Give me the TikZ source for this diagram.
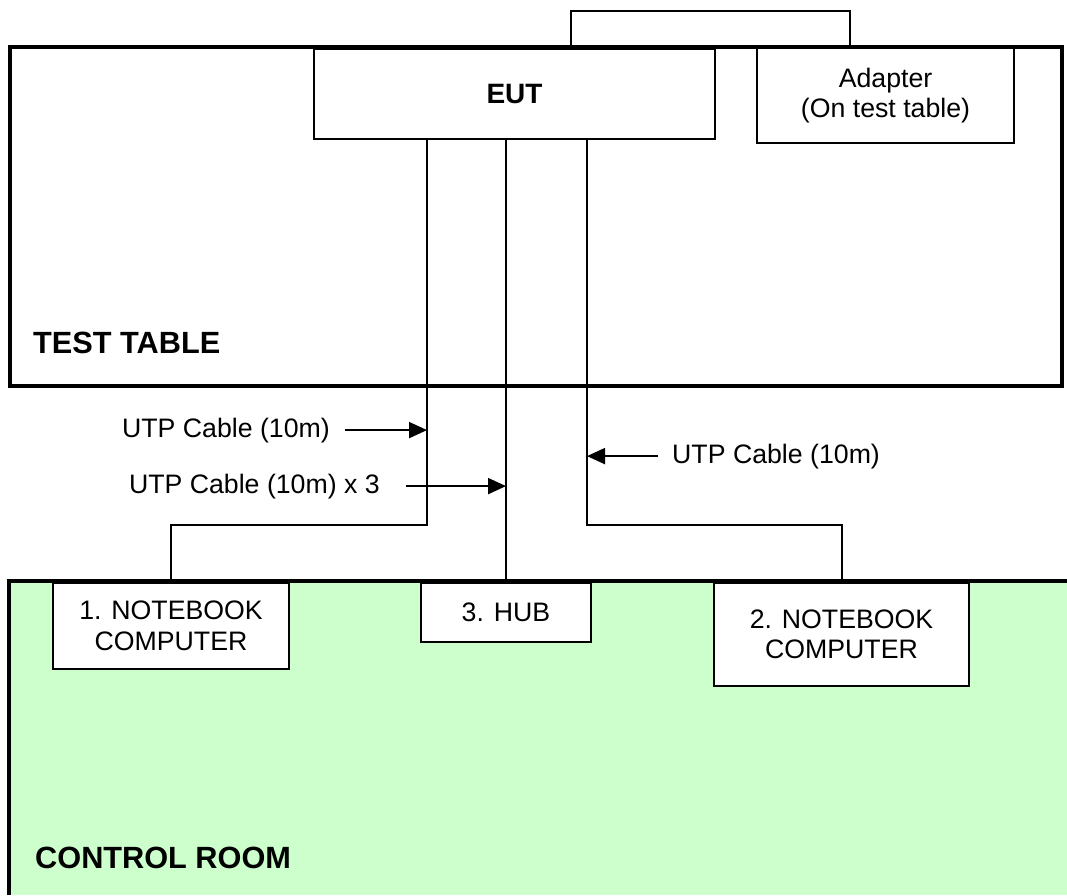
\documentclass[tikz,border=0pt]{standalone}
\usepackage{fontspec}
\setmainfont{Liberation Sans}
\usetikzlibrary{arrows.meta}
\definecolor{roomgreen}{HTML}{CCFFCC}
\tikzset{
  unitbox/.style={draw, line width=2pt, fill=white, inner sep=0pt, align=center},
  cable/.style={line width=2pt},
  cablearrow/.style={line width=2pt, -{Triangle[length=18pt,width=16pt]}},
  wall/.style={line width=4.5pt},
  roomlabel/.style={font=\bfseries\fontsize{30.7}{36}\selectfont, inner sep=0pt, anchor=base west},
  cablelabel/.style={inner sep=0pt}
}
\begin{document}
\begin{tikzpicture}[x=1pt, y=-1pt, every node/.style={font=\fontsize{26.7}{30.5}\selectfont}]
  \useasboundingbox (0,0) rectangle (1067,895);

  \fill[roomgreen] (9,581) rectangle (1067,895);
  \draw[wall] (9,895) -- (9,581) -- (1067,581);
  \node[roomlabel] (room) at (35,868) {CONTROL ROOM};

  \node[draw, wall, inner sep=0pt, minimum width=1052pt, minimum height=339pt] (table) at (536,216.5) {};
  \node[roomlabel] (tablelbl) at (33,353) {TEST TABLE};

  \node[unitbox, minimum width=401pt, minimum height=90pt, font=\bfseries\fontsize{28}{32}\selectfont] (eut) at (514.5,94) {EUT};
  \node[unitbox, minimum width=257pt, minimum height=95pt] (adapter) at (885.5,95.5) {Adapter\\(On test table)};

  \node[unitbox, minimum width=236pt, minimum height=86pt] (nb1) at (171,626) {1. NOTEBOOK\\COMPUTER};
  \node[unitbox, minimum width=170pt, minimum height=59pt] (hub) at (506,612.5) {3. HUB};
  \node[unitbox, minimum width=255pt, minimum height=103pt] (nb2) at (841.5,634.5) {2. NOTEBOOK\\COMPUTER};

  \coordinate (p1) at (571,11);
  \coordinate (p2) at (850,11);
  \draw[cable] (eut.north -| p1) -- (p1) -- (p2) -- (adapter.north -| p2);

  \coordinate (k1) at (427,525);
  \coordinate (k3) at (587,525);
  \draw[cable] (eut.south -| k1) -- (k1) -| (nb1.north);
  \draw[cable] (eut.south -| hub.north) -- (hub.north);
  \draw[cable] (eut.south -| k3) -- (k3) -| (nb2.north);

  \node[cablelabel, anchor=base east] (cab1) at (330,437) {UTP Cable (10m)};
  \node[cablelabel, anchor=base east] (cab2) at (380,493) {UTP Cable (10m) x 3};
  \node[cablelabel, anchor=base west] (cab3) at (672,463) {UTP Cable (10m)};

  \draw[cablearrow] ([xshift=15pt]cab1.east) -- (cab1.east -| k1);
  \draw[cablearrow] ([xshift=26pt]cab2.east) -- (cab2.east -| hub.north);
  \draw[cablearrow] ([xshift=-14pt]cab3.west) -- (cab3.west -| k3);
\end{tikzpicture}
\end{document}
